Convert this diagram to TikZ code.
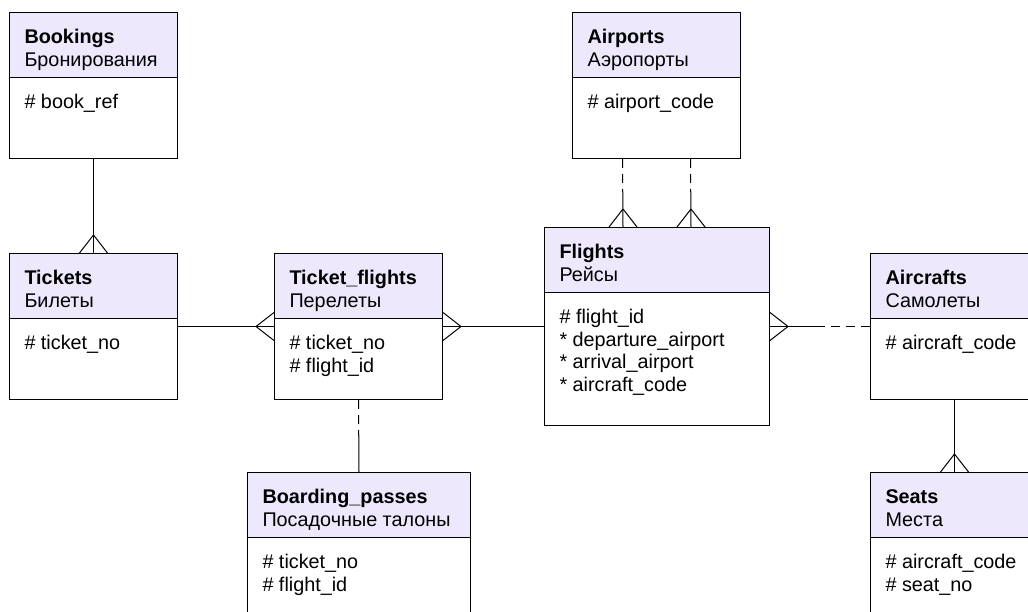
\documentclass[tikz,border=0pt]{standalone}
\usepackage{fontspec}
\setmainfont{Liberation Sans}
\usetikzlibrary{shapes.multipart,calc}

\definecolor{hdrfill}{RGB}{238,232,252}

% header and attribute parts of an entity box
\newcommand{\hdr}[3][138pt]{\parbox[t][64pt][t]{#1}{\rule{0pt}{30.5pt}\textbf{#2}\\#3}}
\newcommand{\attrs}[3][138pt]{\parbox[t][#2][t]{#1}{\rule{0pt}{30.5pt}#3}}

\begin{document}
\begin{tikzpicture}[x=1pt, y=-1pt, line width=1pt]
  \tikzstyle{entity}=[draw, anchor=north west, rectangle split, rectangle split parts=2,
                      rectangle split part fill={hdrfill,white}, inner xsep=15pt, inner ysep=0pt,
                      font=\fontsize{19.8}{22.7}\selectfont]
  \tikzstyle{opt}=[dash pattern=on 9pt off 6pt]
  \tikzset{crow/.pic={\draw (-18,0) -- (0,14) (-18,0) -- (0,-14);}}
  \useasboundingbox (0,0) rectangle (1028,612);
  \clip (0,0) rectangle (1028,612);

  \node[entity] (bookings) at (9,12)
       {\hdr{Bookings}{Бронирования}\nodepart{two}\attrs{80pt}{\# book\_ref}};
  \node[entity] (tickets) at (9,253)
       {\hdr{Tickets}{Билеты}\nodepart{two}\attrs{80pt}{\# ticket\_no}};
  \node[entity] (ticket flights) at (274,253)
       {\hdr{Ticket\_flights}{Перелеты}\nodepart{two}\attrs{80pt}{\# ticket\_no\\\# flight\_id}};
  \node[entity] (flights) at (544,227)
       {\hdr[195pt]{Flights}{Рейсы}\nodepart{two}\attrs[195pt]{132pt}{\# flight\_id\\{*} departure\_airport\\{*} arrival\_airport\\{*} aircraft\_code}};
  \node[entity] (airports) at (572,12)
       {\hdr{Airports}{Аэропорты}\nodepart{two}\attrs{80pt}{\# airport\_code}};
  \node[entity] (aircrafts) at (870,253)
       {\hdr{Aircrafts}{Самолеты}\nodepart{two}\attrs{80pt}{\# aircraft\_code}};
  \node[entity] (seats) at (870,472)
       {\hdr{Seats}{Места}\nodepart{two}\attrs{80pt}{\# aircraft\_code\\\# seat\_no}};
  \node[entity] (boarding passes) at (247,472)
       {\hdr[193pt]{Boarding\_passes}{Посадочные талоны}\nodepart{two}\attrs[193pt]{80pt}{\# ticket\_no\\\# flight\_id}};

  % solid relations
  \draw (bookings.south) -- (tickets.north);
  \pic[rotate=-90] at (tickets.north) {crow};
  \draw (tickets.east) -- (ticket flights.west);
  \pic at (ticket flights.west) {crow};
  \draw (ticket flights.east) -- (flights.west);
  \pic[rotate=180] at (ticket flights.east) {crow};
  \draw (aircrafts.south) -- (seats.north);
  \pic[rotate=-90] at (seats.north) {crow};

  % half optional relations
  \foreach \s/\n in {-34/dep,34/arr} {
    \coordinate (\n a) at ([xshift=\s pt]airports.south);
    \coordinate (\n f) at ([xshift=\s pt]flights.north);
    \coordinate (\n m) at ($(\n a)!.5!(\n f)$);
    \draw[opt] (\n a) -- (\n m);
    \draw (\n m) -- (\n f);
    \pic[rotate=-90] at (\n f) {crow};
  }
  \coordinate (craft m) at ($(flights.east)!.5!(aircrafts.west)$);
  \draw (flights.east) -- (craft m);
  \draw[opt] (aircrafts.west) -- (craft m);
  \pic[rotate=180] at (flights.east) {crow};
  \coordinate (pass m) at ($(ticket flights.south)!.5!(boarding passes.north)$);
  \draw[opt] (ticket flights.south) -- (pass m);
  \draw (pass m) -- (boarding passes.north);
\end{tikzpicture}
\end{document}
